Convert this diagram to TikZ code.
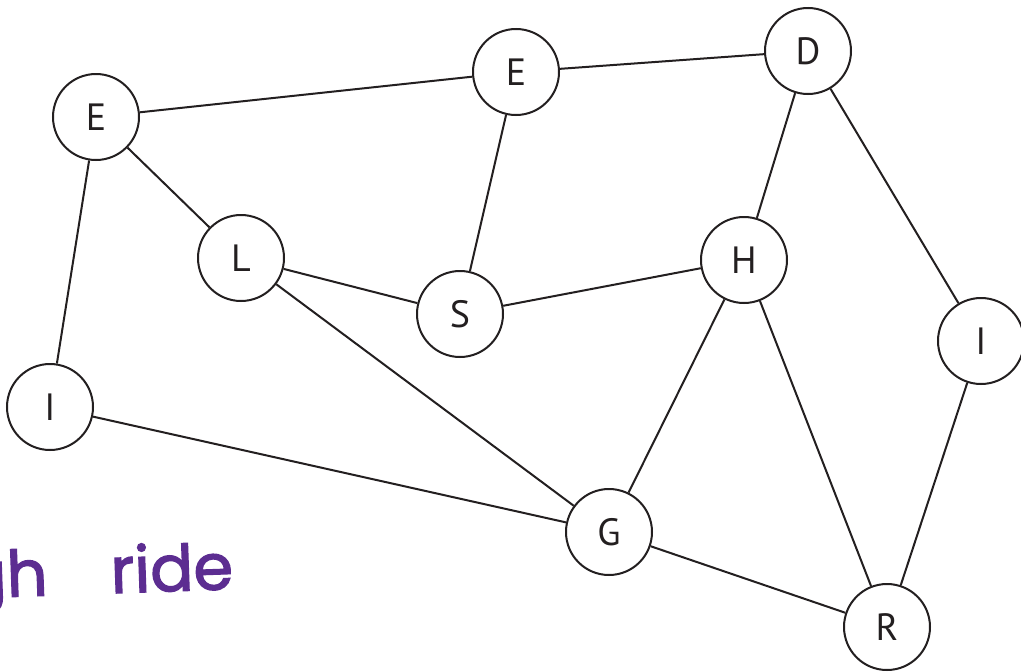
\documentclass[tikz,border=0pt]{standalone}
\usepackage{fontspec}
\setmainfont{PT Sans}
\newfontfamily\handfont[FakeBold=2]{Poppins}
\definecolor{ink}{HTML}{231F20}
\definecolor{pen}{HTML}{5C2D91}
\tikzset{
  vtx/.style={circle, draw=ink, line width=2pt, minimum size=86pt, inner sep=0pt, fill=white, text=ink, font=\fontsize{38}{38}\selectfont},
  edge/.style={draw=ink, line width=2pt},
  hand/.style={text=pen, font=\handfont\fontsize{64}{64}\selectfont, inner sep=0pt}
}
\begin{document}
\begin{tikzpicture}[x=1pt, y=-1pt]
\useasboundingbox (0,0) rectangle (1021,672);
\clip (0,0) rectangle (1021,672);
\fill[white] (0,0) rectangle (1021,672);
\node[hand, anchor=base east, rotate=2] (txt) at (234,589) {gh\hspace{46pt} ride};
\node[vtx] (E1) at (96,117) {E};
\node[vtx] (E2) at (516,72) {E};
\node[vtx] (D) at (808,51) {D};
\node[vtx] (L) at (241,258) {L};
\node[vtx] (S) at (460,314) {S};
\node[vtx] (H) at (744,260) {H};
\node[vtx] (I1) at (50,407) {I};
\node[vtx] (I2) at (981,341) {I};
\node[vtx] (G) at (609,532) {G};
\node[vtx] (R) at (887,627) {R};
\path[edge] (E1) -- (E2);
\path[edge] (E2) -- (D);
\path[edge] (E1) -- (L);
\path[edge] (E1) -- (I1);
\path[edge] (E2) -- (S);
\path[edge] (L) -- (S);
\path[edge] (S) -- (H);
\path[edge] (L) -- (G);
\path[edge] (I1) -- (G);
\path[edge] (D) -- (H);
\path[edge] (D) -- (I2);
\path[edge] (H) -- (G);
\path[edge] (H) -- (R);
\path[edge] (I2) -- (R);
\path[edge] (G) -- (R);
\end{tikzpicture}
\end{document}
